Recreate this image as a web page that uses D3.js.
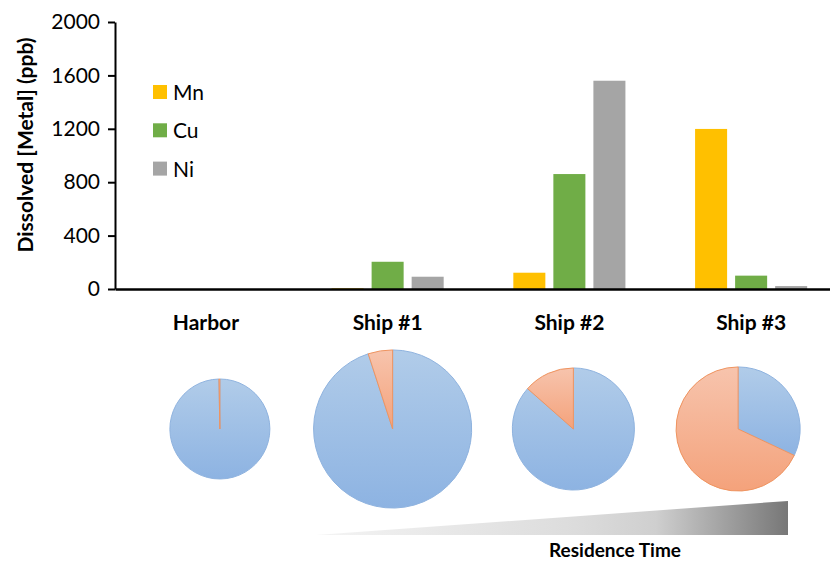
<!DOCTYPE html>
<html>
<head>
<meta charset="utf-8">
<script src="https://cdn.jsdelivr.net/npm/d3@7"></script>
<style>
  body { margin: 0; background: #fff; }
  text { font-family: Lato, "Open Sans", sans-serif; }
</style>
</head>
<body>
<div id="chart"></div>
<script>
// data
var categories = ["Harbor", "Ship #1", "Ship #2", "Ship #3"];
var series = ["Mn", "Cu", "Ni"];
var mnValues = [0, 5, 122, 1199];
var cuValues = [0, 204, 861, 100];
var niValues = [0, 92, 1560, 22];
var yTicks = [0, 400, 800, 1200, 1600, 2000];
// pie charts under each site: share of the orange slice, relative pie size
var pieOrangeShare = [0.003, 0.05, 0.135, 0.68];
var pieTotal = [1, 2.5, 1.49, 1.54];

var colors = {Mn: "#FFC000", Cu: "#70AD47", Ni: "#A5A5A5"};
var valuesBySeries = {Mn: mnValues, Cu: cuValues, Ni: niValues};

var width = 830, height = 562;
var svg = d3.select("#chart").append("svg")
    .attr("width", width)
    .attr("height", height);

var defs = svg.append("defs");

// scales
var x = d3.scaleBand().domain(categories).range([115, 842]);
var xSub = d3.scaleBand().domain(series).range([0, x.bandwidth()])
    .paddingInner(0.2).paddingOuter(0.87);
var y = d3.scaleLinear().domain([0, 2000]).range([289, 22]);

// bars
categories.forEach(function (cat, i) {
  var g = svg.append("g").attr("transform", "translate(" + x(cat) + ",0)");
  g.selectAll("rect")
    .data(series.map(function (s) { return {key: s, value: valuesBySeries[s][i]}; }))
    .enter().append("rect")
      .attr("x", function (d) { return xSub(d.key); })
      .attr("y", function (d) { return y(d.value); })
      .attr("width", xSub.bandwidth())
      .attr("height", function (d) { return y(0) - y(d.value); })
      .attr("fill", function (d) { return colors[d.key]; });
});

// y axis
var yAxis = svg.append("g")
    .attr("transform", "translate(115,0)")
    .call(d3.axisLeft(y).tickValues(yTicks).tickFormat(d3.format("d"))
      .tickSize(7).tickSizeOuter(0).tickPadding(8));
yAxis.select(".domain").attr("stroke", "#000").attr("stroke-width", 2);
yAxis.selectAll(".tick line").attr("stroke", "#000").attr("stroke-width", 2);
yAxis.selectAll(".tick text")
    .attr("font-family", "Lato, sans-serif")
    .attr("font-size", 21)
    .attr("fill", "#000");

// x axis
var xAxis = svg.append("g")
    .attr("transform", "translate(0," + y(0) + ")")
    .call(d3.axisBottom(x).tickSize(0).tickPadding(26));
xAxis.select(".domain").attr("stroke", "#000").attr("stroke-width", 2.5);
xAxis.selectAll(".tick text")
    .attr("font-family", "Lato, sans-serif")
    .attr("font-size", 21)
    .attr("font-weight", "bold")
    .attr("fill", "#000");

// y title
svg.append("text")
    .attr("transform", "translate(33,145) rotate(-90)")
    .attr("text-anchor", "middle")
    .attr("font-size", 21)
    .attr("font-weight", "bold")
    .text("Dissolved [Metal] (ppb)");

// legend
var legend = svg.append("g").attr("transform", "translate(153,85)");
series.forEach(function (s, i) {
  legend.append("rect")
    .attr("x", 0).attr("y", i * 38.3)
    .attr("width", 14).attr("height", 14)
    .attr("fill", colors[s]);
  legend.append("text")
    .attr("x", 20).attr("y", i * 38.3 + 15)
    .attr("font-size", 21)
    .text(s);
});

// pie gradients
function vGrad(id, top, bottom) {
  var lg = defs.append("linearGradient").attr("id", id)
    .attr("x1", 0).attr("y1", 0).attr("x2", 0).attr("y2", 1);
  lg.append("stop").attr("offset", "0%").attr("stop-color", top);
  lg.append("stop").attr("offset", "100%").attr("stop-color", bottom);
}
vGrad("gBlue", "#b1cce9", "#8db3e2");
vGrad("gOrange", "#f7c4ad", "#f4a27b");

// pies
var r = d3.scaleSqrt().domain([0, 1]).range([0, 50]);
var pieShift = [14, 5, 4, -13];
var pie = d3.pie().sort(null).value(function (d) { return d; });
categories.forEach(function (cat, i) {
  var cx = x(cat) + x.bandwidth() / 2 + pieShift[i];
  var rad = r(pieTotal[i]);
  var arc = d3.arc().innerRadius(0).outerRadius(rad);
  var g = svg.append("g").attr("transform", "translate(" + cx + ",429)");
  g.selectAll("path")
    .data(pie([1 - pieOrangeShare[i], pieOrangeShare[i]]))
    .enter().append("path")
      .attr("d", arc)
      .attr("fill", function (d, j) { return j === 0 ? "url(#gBlue)" : "url(#gOrange)"; })
      .attr("stroke", function (d, j) { return j === 0 ? "#8fb3df" : "#ef9460"; })
      .attr("stroke-width", 1);
});

// residence time wedge
var tg = defs.append("linearGradient").attr("id", "gTime")
    .attr("x1", 0).attr("y1", 0).attr("x2", 1).attr("y2", 0);
tg.append("stop").attr("offset", "0%").attr("stop-color", "#f4f4f4");
tg.append("stop").attr("offset", "55%").attr("stop-color", "#dcdcdc");
tg.append("stop").attr("offset", "72%").attr("stop-color", "#cfcfcf");
tg.append("stop").attr("offset", "100%").attr("stop-color", "#777");
svg.append("path")
    .attr("d", "M316,535 L788,501 L788,535 Z")
    .attr("fill", "url(#gTime)");

svg.append("text")
    .attr("x", 615).attr("y", 557)
    .attr("text-anchor", "middle")
    .attr("font-size", 19)
    .attr("font-weight", "bold")
    .text("Residence Time");
</script>
</body>
</html>
